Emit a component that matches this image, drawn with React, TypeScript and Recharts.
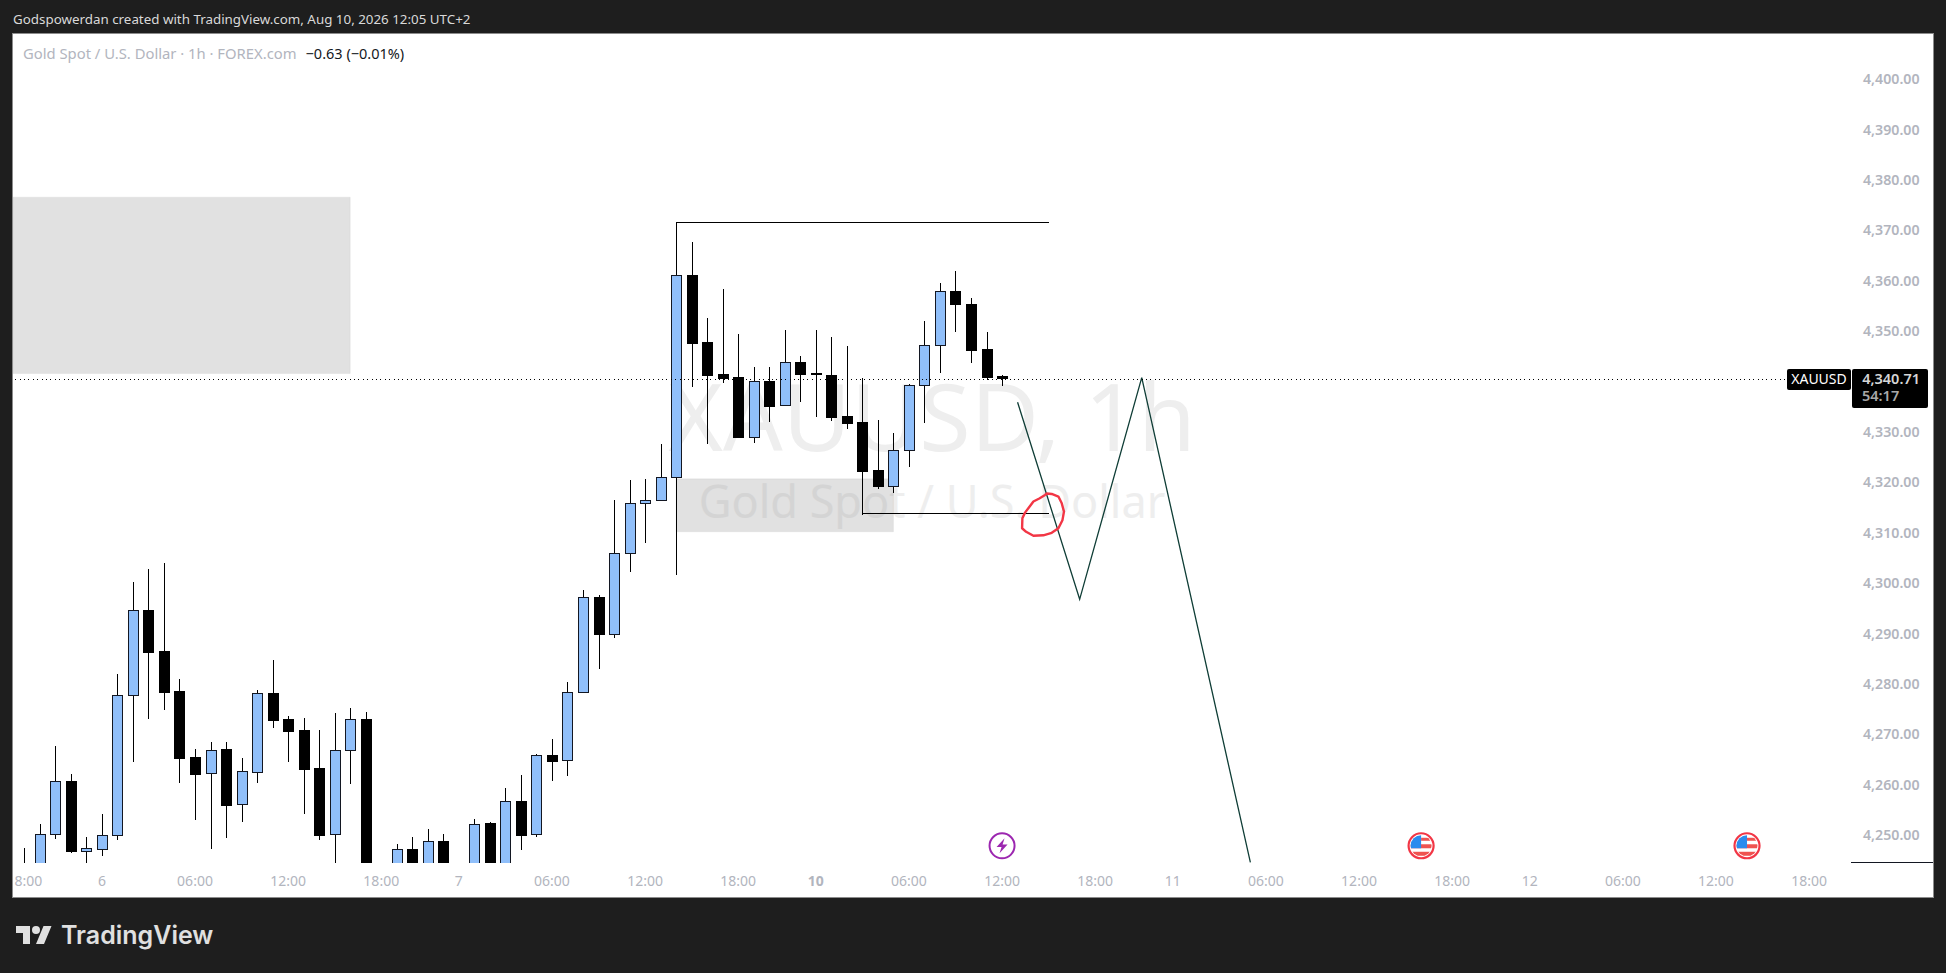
import { Bar, ComposedChart, Line, ReferenceArea, ReferenceDot, ReferenceLine, XAxis, YAxis } from "recharts";

// hourly candles. bars hidden below the pane are estimates
const opens = [4243, 4240, 4250.2, 4260.7, 4246.9, 4247.3, 4250.0, 4277.9, 4294.7, 4286.5, 4278.6, 4265.5, 4262.3, 4267.1, 4256.1, 4262.6, 4278.2, 4273.0, 4270.9, 4263.3, 4250.2, 4267.0, 4273.0, 4241, 4240, 4247.2, 4240, 4248.8, 4240, 4241, 4252.4, 4242, 4256.7, 4250.2, 4266.0, 4264.9, 4278.5, 4297.3, 4290.0, 4305.9, 4316.0, 4316.6, 4321.0, 4361.1, 4347.8, 4341.5, 4340.9, 4329.1, 4340.05, 4335.3, 4343.8, 4341.65, 4341.4, 4333.2, 4332.0, 4322.5, 4319.35, 4326.35, 4339.25, 4347.2, 4358.0, 4355.4, 4346.45, 4341.2];
const highs = [4247.4, 4252.3, 4267.7, 4262.1, 4249.6, 4254.2, 4282.0, 4300.2, 4302.8, 4304.0, 4281.0, 4267.1, 4268.5, 4268.5, 4265.3, 4278.8, 4284.8, 4273.6, 4273.3, 4270.9, 4274.2, 4275.2, 4274.4, 4243, 4248.2, 4249.6, 4251.2, 4250.2, 4243, 4253.2, 4252.7, 4259.4, 4262.0, 4266.2, 4269.1, 4280.4, 4298.65, 4297.7, 4316.6, 4320.4, 4320.7, 4327.6, 4371.6, 4367.7, 4352.6, 4358.4, 4349.4, 4342.9, 4342.9, 4350.2, 4345.05, 4350.2, 4348.8, 4347.1, 4340.65, 4332.4, 4329.8, 4339.5, 4352.0, 4359.6, 4361.95, 4356.6, 4349.85, 4341.3];
const lows = [4238, 4238, 4249.3, 4246.5, 4243, 4245.9, 4249.0, 4264.6, 4273.0, 4274.8, 4260.4, 4253.0, 4247.3, 4249.4, 4252.6, 4260.4, 4271.3, 4264.6, 4254.2, 4249.0, 4243, 4260.2, 4238, 4234, 4238, 4238, 4238, 4238, 4236, 4240, 4240, 4241, 4247.1, 4249.7, 4260.8, 4261.7, 4278.5, 4283.0, 4289.2, 4302.3, 4308.0, 4316.6, 4301.7, 4339.0, 4327.7, 4339.8, 4329.0, 4327.9, 4332.05, 4335.3, 4336.0, 4333.0, 4332.2, 4330.65, 4313.5, 4318.75, 4317.8, 4323.1, 4331.85, 4341.8, 4349.9, 4343.75, 4340.3, 4339.1];
const closes = [4241, 4250.2, 4260.7, 4246.9, 4247.4, 4250.0, 4277.9, 4294.6, 4286.4, 4278.5, 4265.4, 4262.1, 4267.0, 4256.0, 4262.7, 4278.2, 4272.9, 4270.7, 4263.2, 4250.1, 4267.0, 4273.0, 4241, 4238, 4247.2, 4240, 4248.8, 4240, 4241, 4252.3, 4242, 4256.7, 4250.1, 4266.0, 4264.8, 4278.5, 4297.2, 4290.0, 4305.9, 4316.0, 4316.6, 4321.0, 4361.1, 4347.7, 4341.4, 4340.8, 4329.07, 4340.05, 4335.2, 4343.8, 4341.6, 4341.55, 4333.0, 4331.85, 4322.3, 4319.3, 4326.35, 4339.25, 4347.2, 4357.9, 4355.3, 4346.3, 4340.97, 4340.71];

// 4,340.00 is hidden behind the last price tag in the picture
const priceTicks = [4250, 4260, 4270, 4280, 4290, 4300, 4310, 4320, 4330, 4350, 4360, 4370, 4380, 4390, 4400];
const timeTicks = [0, 5, 11, 17, 23, 28, 34, 40, 46, 51, 57, 63, 69, 74, 80, 86, 92, 97, 103, 109, 115];
const timeLabels = ["18:00", "6", "06:00", "12:00", "18:00", "7", "06:00", "12:00", "18:00", "10", "06:00", "12:00", "18:00", "11", "06:00", "12:00", "18:00", "12", "06:00", "12:00", "18:00"];

// drawings on the chart, [bar index, price]
const projection = [[64, 4335.9], [68, 4296.8], [72, 4340.8], [79, 4244.6]];
const scribble = [[65.77, 4317.5], [65.4, 4316.8], [65.02, 4316.2], [64.48, 4314.0], [64.31, 4312.9], [64.29, 4310.9], [64.55, 4310.2], [65.02, 4309.4], [65.66, 4309.5], [66.2, 4310.0], [66.63, 4310.9], [66.89, 4312.5], [66.99, 4314.2], [66.84, 4315.9], [66.63, 4317.2], [66.2, 4317.7], [65.88, 4317.8], [65.77, 4317.5]];
const highLine = [[42, 4371.6], [66, 4371.6]];
const lowLine = [[54, 4313.85], [66, 4313.85]];

const lastPrice = "4,340.71";
const priceLineLevel = 4340.5;
const countdown = "54:17";
const eventRow = 4247.9;
const boltEvents = [63];
const flagEvents = [90, 111];

const X_DOMAIN = [-0.728, 117.7];
const Y_DOMAIN = [4244.48, 4408.97];

const FONT = '"Noto Sans", sans-serif';
const BLUE = "#90bffa";
const GREEN = "#0f3d36";
const RED = "#f23645";
const TICK = "#b2b5be";

const candles = opens.map((open, i) => ({
  i,
  open,
  high: highs[i],
  low: lows[i],
  close: closes[i],
  range: [lows[i], highs[i]],
}));

const toPoints = (pts: number[][]) => pts.map(([i, v]) => ({ i, v }));

function Candle({ x, y, width, height, payload }: any) {
  const { open, high, low, close } = payload;
  const cx = Math.round(x + width / 2);
  const k = height / (high - low);
  const yOf = (p: number) => y + (high - p) * k;
  const top = Math.round(yOf(Math.max(open, close)));
  const bottom = Math.max(Math.round(yOf(Math.min(open, close))), top + 1);
  const up = close >= open;
  return (
    <g shapeRendering="crispEdges">
      <rect x={cx} y={y} width={1} height={height} fill="#000" />
      <rect
        x={cx - 4.5}
        y={top + 0.5}
        width={10}
        height={bottom - top}
        fill={up ? BLUE : "#000"}
        stroke={up ? "#131722" : "#000"}
        strokeWidth={1}
      />
    </g>
  );
}

function TimeTick({ x, y, payload }: any) {
  const label = timeLabels[timeTicks.indexOf(payload.value)];
  return (
    <text x={x} y={y} dy={8} textAnchor="middle" fill={TICK} fontSize={14} fontFamily={FONT} fontWeight={label === "10" ? 700 : 400}>
      {label}
    </text>
  );
}

function PriceTag({ viewBox }: any) {
  const right = viewBox.x + viewBox.width;
  const y = viewBox.y;
  return (
    <g fontFamily={FONT}>
      <rect x={right - 64} y={y - 10} width={64} height={21} rx={2} fill="#000" />
      <text x={right - 32} y={y + 5} fill="#fff" fontSize={14} textAnchor="middle">XAUUSD</text>
      <rect x={right + 1} y={y - 10} width={76} height={39} rx={2} fill="#000" />
      <text x={right + 69} y={y + 5} fill="#d6d6d6" fontSize={14.5} fontWeight={600} textAnchor="end">{lastPrice}</text>
      <text x={right + 11} y={y + 22} fill="#a8a8a8" fontSize={14.5} fontWeight={600}>{countdown}</text>
    </g>
  );
}

function BoltIcon({ cx, cy }: any) {
  return (
    <g transform={`translate(${cx},${cy})`}>
      <circle r={12.5} fill="#fff" stroke="#9c27b0" strokeWidth={2} />
      <path d="M2.5 -7.5 L-5.5 1.2 L-0.5 1.2 L-2.5 7.5 L5.5 -1.2 L0.5 -1.2 Z" fill="#9c27b0" />
    </g>
  );
}

function FlagIcon({ cx, cy, index }: any) {
  const id = `flag-${index ?? Math.round(cx)}`;
  return (
    <g transform={`translate(${cx},${cy})`}>
      <clipPath id={id}><circle r={10.5} /></clipPath>
      <circle r={12.5} fill="#fff" stroke={RED} strokeWidth={2.2} />
      <g clipPath={`url(#${id})`}>
        <rect x={-11} y={-1.5} width={22} height={4} fill="#ef5350" />
        <rect x={-11} y={6} width={22} height={4} fill="#ef5350" />
        <rect x={0} y={-8} width={11} height={3} fill="#ef5350" />
        <rect x={-11} y={-11} width={11} height={13.5} fill="#2a8bee" />
      </g>
    </g>
  );
}

export default function App() {
  return (
    <div style={{ position: "absolute", left: 0, top: 0, width: 1946, height: 973, background: "#1e1e1e", overflow: "hidden", fontFamily: FONT }}>
      <div style={{ position: "absolute", left: 13, top: 10, color: "#d9d9d9", fontSize: 13.36, lineHeight: "18px", whiteSpace: "nowrap" }}>
        Godspowerdan created with TradingView.com, Aug 10, 2026 12:05 UTC+2
      </div>

      <div style={{ position: "absolute", left: 12, top: 33, width: 1920, height: 863, background: "#fff", border: "1px solid #8c8c8c", overflow: "hidden" }}>
        {/* watermark sits under the transparent chart */}
        <div style={{ position: "absolute", left: 0, top: 0, width: 1838, textAlign: "center", color: "#eeeeee", whiteSpace: "nowrap" }}>
          <div style={{ position: "absolute", left: 0, top: 316, width: 1838, fontSize: 93.5, lineHeight: "130px" }}>XAUUSD, 1h</div>
          <div style={{ position: "absolute", left: 0, top: 437, width: 1838, fontSize: 45, lineHeight: "60px" }}>Gold Spot / U.S. Dollar</div>
        </div>

        <div style={{ position: "absolute", left: 10, top: 10, fontSize: 14.8, lineHeight: "18px", whiteSpace: "nowrap", color: TICK }}>
          Gold Spot / U.S. Dollar · 1h · FOREX.com
          <span style={{ color: "#131722", marginLeft: 9, fontSize: 14.5 }}>−0.63 (−0.01%)</span>
        </div>

        <div style={{ position: "absolute", left: 0, top: 0 }}>
          <ComposedChart width={1920} height={863} data={candles} margin={{ top: 0, right: 0, bottom: 0, left: 0 }}>
            <XAxis
              dataKey="i"
              type="number"
              scale="linear"
              domain={X_DOMAIN}
              allowDataOverflow
              ticks={timeTicks}
              interval={0}
              axisLine={false}
              tickLine={false}
              height={34}
              tickMargin={9}
              tick={<TimeTick />}
            />
            <YAxis
              orientation="right"
              type="number"
              domain={Y_DOMAIN}
              allowDataOverflow
              ticks={priceTicks}
              interval={0}
              tickFormatter={(v: number) => v.toLocaleString("en-US", { minimumFractionDigits: 2 })}
              axisLine={false}
              tickLine={false}
              width={82}
              tickMargin={6}
              tick={{ fill: TICK, fontSize: 14.2, fontWeight: 600, fontFamily: FONT }}
            />

            <ReferenceArea x1={-0.728} x2={21} y1={4341.6} y2={4376.6} fill="rgb(128,128,128)" fillOpacity={0.24} stroke="rgb(128,128,128)" strokeOpacity={0.08} />
            <ReferenceArea x1={42} x2={56} y1={4310.2} y2={4320.7} fill="rgb(128,128,128)" fillOpacity={0.24} stroke="rgb(128,128,128)" strokeOpacity={0.08} />

            <Bar dataKey="range" barSize={11} shape={<Candle />} isAnimationActive={false} />

            <Line data={toPoints(highLine)} dataKey="v" stroke="#000" strokeWidth={1} shapeRendering="crispEdges" dot={false} isAnimationActive={false} />
            <Line data={toPoints(lowLine)} dataKey="v" stroke="#000" strokeWidth={1} shapeRendering="crispEdges" dot={false} isAnimationActive={false} />
            <Line data={toPoints(projection)} dataKey="v" stroke={GREEN} strokeWidth={1.3} dot={false} isAnimationActive={false} />
            <Line data={toPoints(scribble)} dataKey="v" stroke={RED} strokeWidth={2.4} strokeLinejoin="round" dot={false} isAnimationActive={false} />

            <ReferenceLine y={priceLineLevel} stroke="#000" strokeDasharray="1 3.4" shapeRendering="crispEdges" label={<PriceTag />} />

            {boltEvents.map((i) => (
              <ReferenceDot key={i} x={i} y={eventRow} r={13} ifOverflow="visible" shape={<BoltIcon />} />
            ))}
            {flagEvents.map((i) => (
              <ReferenceDot key={i} x={i} y={eventRow} r={13} ifOverflow="visible" shape={<FlagIcon index={i} />} />
            ))}
          </ComposedChart>
        </div>

        <div style={{ position: "absolute", left: 1838, top: 828, width: 82, height: 1, background: "#131722" }} />
      </div>

      <svg style={{ position: "absolute", left: 15, top: 926 }} width={38} height={18} viewBox="0 4 36 18">
        <path d="M14 22H7V11H0V4h14v18zM28 22h-8l7.5-18h8L28 22z" fill="#e0e0e0" />
        <circle cx={20} cy={8} r={4} fill="#e0e0e0" />
      </svg>
      <div style={{ position: "absolute", left: 61, top: 919, color: "#e0e0e0", fontFamily: "Inter, sans-serif", fontWeight: 600, fontSize: 25, lineHeight: "32px", whiteSpace: "nowrap" }}>
        TradingView
      </div>
    </div>
  );
}
